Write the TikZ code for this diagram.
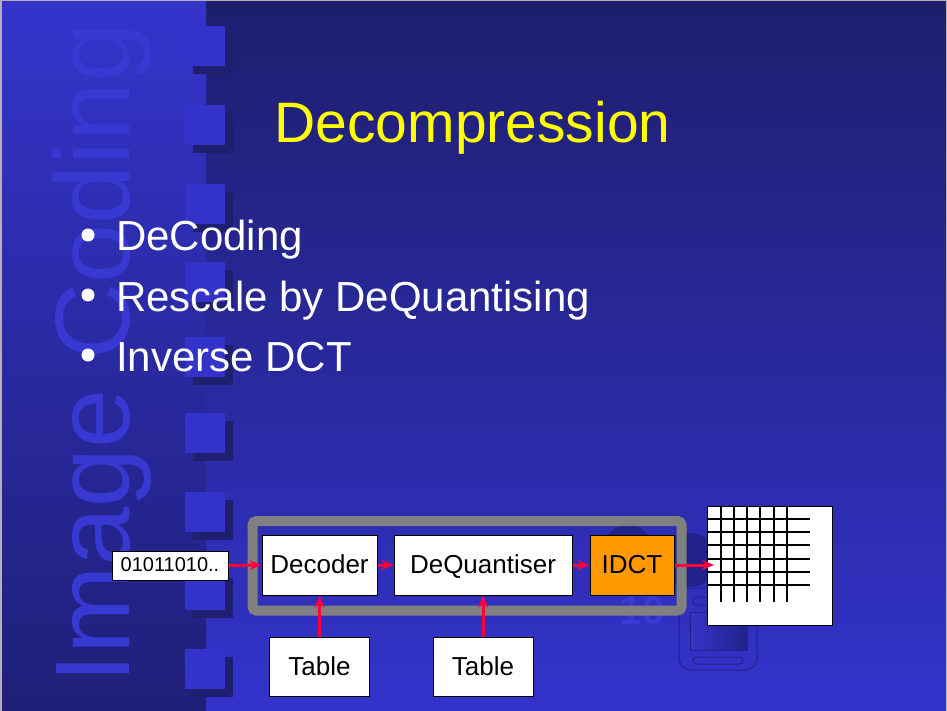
\documentclass[tikz,border=0pt]{standalone}
\usepackage{fontspec}
\setmainfont{Liberation Sans}
\usetikzlibrary{arrows.meta}
\definecolor{sqc}{RGB}{51,51,204}
\definecolor{sqsh}{RGB}{31,31,112}
\definecolor{panTop}{RGB}{52,52,204}
\definecolor{panBot}{RGB}{31,31,120}
\definecolor{bgTop}{RGB}{30,30,110}
\definecolor{bgBot}{RGB}{51,51,204}
\definecolor{wmc}{RGB}{56,56,210}
\definecolor{arrred}{RGB}{255,0,60}
\definecolor{frm}{RGB}{128,128,128}
\definecolor{idctc}{RGB}{255,153,0}
\definecolor{ttl}{RGB}{255,255,0}
\definecolor{phc}{RGB}{34,34,138}
\definecolor{scrL}{RGB}{52,52,200}
\definecolor{tenc}{RGB}{58,58,212}
\begin{document}
\begin{tikzpicture}[x=1pt,y=-1pt,
  box/.style={draw=black, line width=1pt, fill=white, inner sep=0pt,
    font=\fontsize{26}{30}\selectfont, text height=21pt, text depth=4pt},
  flow/.style={draw=arrred, line width=3pt,
    -{Stealth[length=12pt,width=10pt,inset=4pt]}},
  bul/.style={anchor=base west, inner sep=0pt, text=white,
    font=\fontsize{42}{48}\selectfont},
  gridline/.style={draw=black, line width=2pt}]
\useasboundingbox (0,0) rectangle (947,711);
% backgrounds
\shade[top color=bgTop,bottom color=bgBot] (206,0) rectangle (947,711);
\shade[top color=panTop,bottom color=panBot] (0,0) rectangle (206,711);
% watermark text
\node[rotate=90, anchor=base west, inner sep=0pt, text=wmc,
  font=\fontsize{106}{110}\selectfont] (wmtext) at (129,684) {Image Coding};
% squares with shadows
\foreach \y in {26,105,184,262,337,413,492,570,649} {
  \fill[sqsh] (193,\y+8) rectangle (233,\y+48);
  \fill[sqc] (185,\y) rectangle (225,\y+40);
}
% slide border
\draw[gray!60, line width=1.5pt] (0.75,711) -- (0.75,0.75) -- (946.25,0.75) -- (946.25,711);
% title
\node[anchor=base, inner sep=0pt, text=ttl, font=\fontsize{57}{64}\selectfont]
  (title) at (472.5,143) {Decompression};
% bullets
\foreach \b in {235,295,355} { \fill[white] (88,\b) circle (6.5); }
\node[bul] (b1) at (116,251) {DeCoding};
\node[bul] (b2) at (116,311) {Rescale by DeQuantising};
\node[bul] (b3) at (116,371) {Inverse DCT};
% background phone decoration
\fill[phc] (628,551) circle (26);
\fill[phc] (690,560) circle (27);
\node[text=tenc, inner sep=0pt, font=\bfseries\fontsize{40}{44}\selectfont] (ten) at (642,611) {10};
\draw[phc, line width=1pt, rounded corners=12] (679,588) rectangle (757,670);
\draw[phc, line width=1pt, rounded corners=3] (693,597) rectangle (712,605);
\shade[left color=scrL, right color=phc] (690,612) rectangle (747,650);
\draw[phc, line width=1pt] (690,612) rectangle (747,650);
\draw[phc, line width=1pt, rounded corners=3.5] (693,657) rectangle (743,664);
% gray frame
\draw[frm, line width=10pt, rounded corners=4] (252.5,521) rectangle (681.5,610.5);
% nodes
\node[box, minimum width=116pt, minimum height=29pt, font=\fontsize{20}{24}\selectfont,
  text height=15.5pt, text depth=3pt]
  (in) at (170,565.5) {01011010..};
\node[box, minimum width=115pt, minimum height=60pt] (dec) at (319.5,565) {Decoder};
\node[box, minimum width=178pt, minimum height=60pt] (deq) at (483,565) {DeQuantiser};
\node[box, fill=idctc, minimum width=84pt, minimum height=60pt] (idct) at (632,565) {IDCT};
\node[box, minimum width=100pt, minimum height=59pt] (t1) at (319.5,666.5) {Table};
\node[box, minimum width=100pt, minimum height=59pt] (t2) at (483,666.5) {Table};
\node[draw=black, line width=1pt, fill=white, inner sep=0pt,
  minimum width=125pt, minimum height=119pt] (grid) at (769.5,565.5) {};
\foreach \i in {0,...,5} {
  \draw[gridline] (720.7+13.2*\i,506) -- (720.7+13.2*\i,602);
  \draw[gridline] (707,519+13.2*\i) -- (810,519+13.2*\i);
}
\coordinate (gin) at (714,565);
% connectors
\draw[flow] (in.east) -- (dec.west);
\draw[flow] (dec.east) -- (deq.west);
\draw[flow] (deq.east) -- (idct.west);
\draw[flow] (idct.east) -- (gin);
\draw[flow] (t1.north) -- (dec.south);
\draw[flow] (t2.north) -- (deq.south);
\end{tikzpicture}
\end{document}
